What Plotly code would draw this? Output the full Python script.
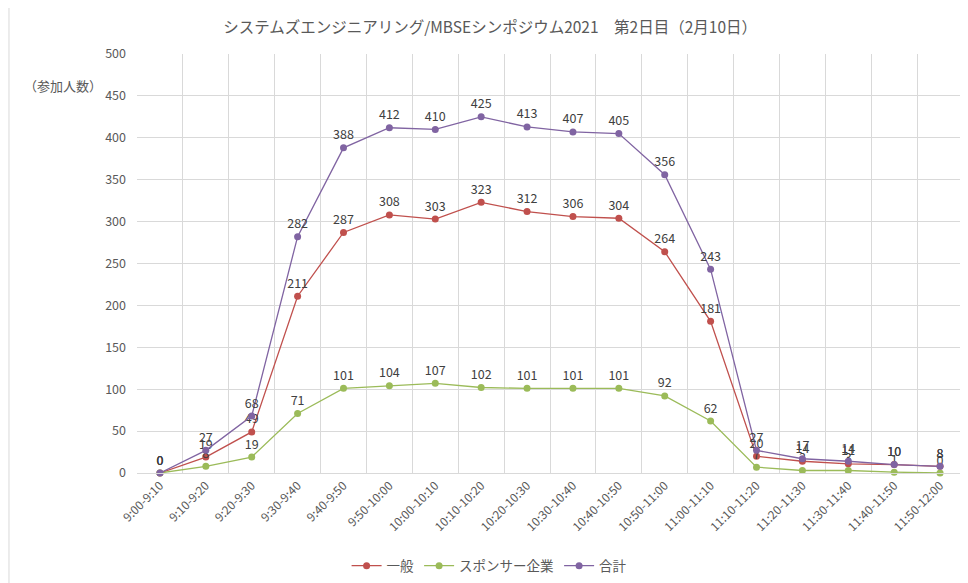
import plotly.graph_objects as go

categories = ["9:00-9:10", "9:10-9:20", "9:20-9:30", "9:30-9:40", "9:40-9:50", "9:50-10:00",
              "10:00-10:10", "10:10-10:20", "10:20-10:30", "10:30-10:40", "10:40-10:50",
              "10:50-11:00", "11:00-11:10", "11:10-11:20", "11:20-11:30", "11:30-11:40",
              "11:40-11:50", "11:50-12:00"]
general = [0, 19, 49, 211, 287, 308, 303, 323, 312, 306, 304, 264, 181, 20, 14, 11, 10, 8]
sponsor = [0, 8, 19, 71, 101, 104, 107, 102, 101, 101, 101, 92, 62, 7, 3, 3, 1, 0]
total = [0, 27, 68, 282, 388, 412, 410, 425, 413, 407, 405, 356, 243, 27, 17, 14, 10, 8]
y_ticks = [0, 50, 100, 150, 200, 250, 300, 350, 400, 450, 500]

FONT = "Noto Sans CJK JP"
series = [("一般", general, "#C0504D"), ("スポンサー企業", sponsor, "#9BBB59"), ("合計", total, "#8064A2")]

fig = go.Figure()
for name, vals, col in series:
    fig.add_trace(go.Scatter(
        x=categories, y=vals, name=name, mode="lines+markers+text",
        line=dict(color=col, width=1.3),
        marker=dict(color=col, size=7),
        text=[str(v) for v in vals], textposition="top center",
        textfont=dict(family=FONT, size=12.5, color="#404040"),
        cliponaxis=False,
    ))

fig.update_layout(
    width=968, height=583,
    margin=dict(l=129, r=13, t=46, b=118, autoexpand=False),
    paper_bgcolor="white", plot_bgcolor="white",
    font=dict(family=FONT, color="#595959"),
    title=dict(text="システムズエンジニアリング/MBSEシンポジウム2021\u3000第2日目（2月10日）",
               x=0.498, xref="container", y=0.966, yref="container", xanchor="center", yanchor="middle",
               font=dict(family=FONT, size=15.5, color="#595959")),
    showlegend=True,
    legend=dict(orientation="h", x=0.497, xref="container", xanchor="center",
                y=0.043, yref="container", yanchor="middle",
                font=dict(family=FONT, size=13.5, color="#595959")),
    xaxis=dict(type="category", range=[-0.5, 17.5], tickson="boundaries", showgrid=True,
               gridcolor="#D9D9D9", gridwidth=1, ticks="", tickangle=-45, automargin=False,
               tickfont=dict(family=FONT, size=12, color="#595959"),
               showline=True, linecolor="#D9D9D9", zeroline=False),
    yaxis=dict(range=[0, 500], tickvals=y_ticks, showgrid=True, gridcolor="#D9D9D9", gridwidth=1,
               ticks="", tickfont=dict(family=FONT, size=12.5, color="#595959"), automargin=False,
               showline=False, zeroline=False, ticklabelstandoff=10),
    annotations=[dict(text="（参加人数）", xref="paper", yref="paper", x=-0.0896, y=0.926,
                      xanchor="center", yanchor="middle", showarrow=False,
                      font=dict(family=FONT, size=13, color="#595959"))],
    shapes=[dict(type="line", xref="paper", yref="paper", x0=-0.1550, x1=-0.1550, y0=-0.3, y1=1.13,
                 line=dict(color="#D9D9D9", width=1))],
)

fig.write_html("out.html")
